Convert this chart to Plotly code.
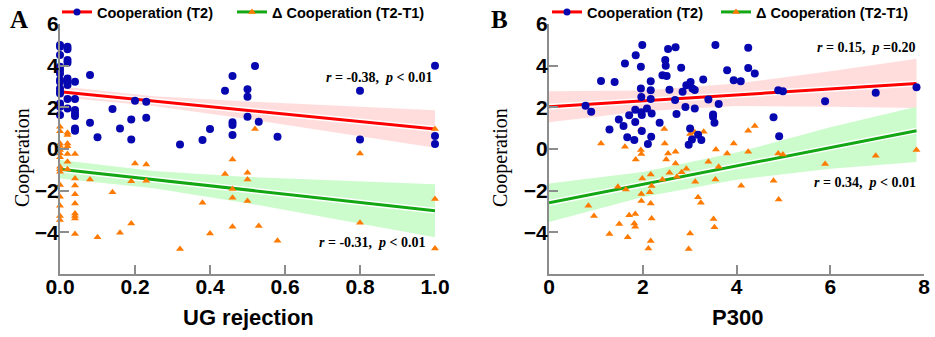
import plotly.graph_objects as go

# ---------------- Panel A: UG rejection ----------------
a_coop_x = [0]*14 + [0.02]*9 + [0.04]*7 + [0.08, 0.08, 0.10, 0.14, 0.16, 0.19, 0.19, 0.20, 0.23, 0.23,
            0.32, 0.38, 0.40, 0.44, 0.46, 0.46, 0.46, 0.46, 0.50, 0.50, 0.50, 0.52, 0.53, 0.58,
            0.80, 0.80, 1.0, 1.0, 1.0]
a_coop_y = [4.99, 4.91, 4.51, 3.95, 3.79, 3.63, 3.31, 3.23, 2.91, 2.75, 2.67, 2.19, 2.03, 1.63,
            4.91, 4.79, 4.27, 4.14, 3.39, 3.23, 3.07, 2.40, 1.95,
            3.23, 2.40, 1.87, 1.71, 1.58, 0.99, 0.88,
            3.55, 1.26, 0.56, 1.92, 0.99, 1.42, 0.46, 2.32, 2.27, 1.50,
            0.22, 0.43, 0.96, 2.80, 3.50, 1.28, 1.15, 0.67, 2.87, 2.51, 1.55, 3.98, 1.31, 0.59,
            2.80, 0.46, 4.00, 0.62, 0.24]

a_delta_x = [0]*15 + [0.02]*7 + [0.04]*9 + [0.08, 0.10, 0.14, 0.16, 0.19, 0.19, 0.20, 0.23, 0.23,
             0.32, 0.38, 0.40, 0.44, 0.46, 0.46, 0.46, 0.46, 0.50, 0.50, 0.50, 0.52, 0.53,
             0.58, 0.80, 0.80, 1.0, 1.0, 1.0]
a_delta_y = [1.07, 0.85, 0.27, 0.14, -0.05, -0.21, -0.40, -0.85, -0.97, -1.09, -1.73, -2.29, -2.72, -3.22, -3.41,
             0.78, 0.67, 0.26, 0.13, -0.24, -0.61, -0.97,
             -0.24, -1.41, -1.75, -2.17, -2.61, -3.09, -3.22, -3.33, -4.08,
             -1.46, -4.24, -2.08, -4.02, -3.57, -1.55, -0.69, -0.74, -1.52,
             -4.80, -2.58, -4.05, -1.20, -0.50, -1.92, -2.34, -3.73, -1.14, -1.46, -2.50, 0.96, -3.70,
             -4.40, -0.21, -3.54, 0.96, -2.40, -4.77]

a_fit_x = [0, 0.25, 0.5, 0.75, 1.0]
a_coop_fit = [2.75, 2.30, 1.86, 1.41, 0.96]
a_coop_lo = [2.49, 2.07, 1.44, 0.76, 0.06]
a_coop_hi = [3.01, 2.53, 2.28, 2.06, 1.86]
a_delta_fit = [-0.97, -1.47, -1.97, -2.46, -2.96]
a_delta_lo = [-1.41, -1.88, -2.60, -3.40, -4.23]
a_delta_hi = [-0.53, -1.06, -1.34, -1.52, -1.69]

# ---------------- Panel B: P300 ----------------
b_coop_x = [0.78, 0.90, 1.11, 1.29, 1.40, 1.49, 1.59, 1.62, 1.67, 1.71, 1.82, 1.84, 1.84, 1.85, 1.96, 1.96,
            1.97, 1.97, 1.98, 1.98, 1.99, 2.09, 2.11, 2.17, 2.17, 2.17, 2.18, 2.19, 2.36, 2.42, 2.48,
            2.49, 2.51, 2.54, 2.57, 2.70, 2.69, 2.72, 2.82, 2.85, 2.91, 2.93, 3.01, 3.02, 3.05, 2.98,
            3.06, 3.11, 3.11, 3.18, 3.25, 3.29, 3.40, 3.50, 3.50, 3.53, 3.55, 3.62, 3.80, 3.94, 4.09,
            4.25, 4.25, 4.39, 4.79, 4.89, 4.91, 4.99, 5.89, 6.97, 7.84]
b_coop_y = [2.08, 1.79, 3.26, 0.94, 3.22, 1.42, 1.10, 4.11, 0.56, 1.62, 0.43, 1.89, 1.30, 4.50, 3.95, 2.91,
            2.50, 1.76, 1.63, 0.86, 4.99, 1.94, 0.24, 3.25, 2.82, 2.40, 0.59, 1.71, 1.26, 3.54, 4.27,
            4.00, 3.50, 4.80, 2.85, 4.88, 2.35, 1.68, 3.90, 2.75, 2.02, 3.06, 0.98, 3.22, 0.46, 0.21,
            2.91, 2.83, 1.95, 0.69, 0.43, 3.34, 2.38, 1.66, 1.55, 1.26, 4.99, 2.16, 3.78, 3.30, 3.25,
            4.86, 3.89, 3.62, 1.52, 2.82, 0.61, 2.77, 2.29, 2.70, 2.96]

b_delta_x = [0.84, 0.96, 1.11, 1.29, 1.47, 1.50, 1.62, 1.64, 1.68, 1.71, 1.82, 1.84, 1.84, 1.85, 1.96,
             1.96, 1.97, 1.97, 1.97, 1.99, 2.12, 2.15, 2.17, 2.17, 2.17, 2.19, 2.19, 2.42, 2.46, 2.47,
             2.50, 2.54, 2.57, 2.70, 2.70, 2.73, 2.83, 2.93, 2.98, 3.01, 3.01, 3.11, 3.12, 3.18, 3.24,
             3.30, 3.40, 3.51, 3.53, 3.55, 3.56, 3.62, 3.80, 3.94, 4.10, 4.25, 4.25, 4.39, 4.79, 4.89,
             4.90, 4.99, 5.89, 6.97, 7.84]
b_delta_y = [-2.72, -3.22, 0.27, -4.08, -1.81, -3.60, 0.11, -1.94, -4.24, -3.18, -3.57, -3.73, -3.12, -0.50, 0.94,
             -0.05, -0.24, -2.16, -2.50, -1.41, -4.77, -2.08, -1.22, -2.61, -4.42, -1.78, -3.33, -1.46, 0.96, 0.27,
             -0.50, -0.21, -1.14, -0.13, -0.69, -1.33, -1.12, -0.95, -4.80, 0.72, -4.05, 0.80, -1.57, -2.32, -2.58,
             0.83, -0.61, -3.36, -3.76, -1.46, -0.02, -0.85, -0.21, 0.27, -1.76, 0.88, -0.13, 1.10, -1.52, -0.21,
             -2.42, -0.26, -0.72, -0.32, -0.05]

b_fit_x = [0, 2, 4, 6, 7.84]
b_coop_fit = [2.03, 2.31, 2.60, 2.88, 3.14]
b_coop_lo = [1.29, 1.81, 2.06, 2.03, 1.97]
b_coop_hi = [2.77, 2.81, 3.14, 3.73, 4.33]
b_delta_fit = [-2.58, -1.70, -0.82, 0.07, 0.88]
b_delta_lo = [-3.50, -2.30, -1.47, -0.95, -0.62]
b_delta_hi = [-1.66, -1.10, -0.17, 1.04, 2.03]

y_ticks = [-4, -2, 0, 2, 4, 6]
a_xticks = [0, 0.2, 0.4, 0.6, 0.8, 1.0]
a_xticklabels = ["0.0", "0.2", "0.4", "0.6", "0.8", "1.0"]
b_xticks = [0, 2, 4, 6, 8]

series_names = ["Cooperation (T2)", "\u0394 Cooperation (T2-T1)"]
stats_text = ["<b><i>r</i> = -0.38,  <i>p</i> &lt; 0.01</b>", "<b><i>r</i> = -0.31,  <i>p</i> &lt; 0.01</b>",
              "<b><i>r</i> = 0.15,  <i>p</i> =0.20</b>", "<b><i>r</i> = 0.34,  <i>p</i> &lt; 0.01</b>"]

BLUE = "#0707B0"
ORANGE = "#FF7A00"
RED = "#FF0000"
GREEN = "#13A813"
RED_BAND = "rgba(255,215,215,0.85)"
GREEN_BAND = "rgba(195,250,195,0.85)"
AXC = "#8C8C8C"

W, H = 935, 337
ML, MR, MT, MB = 60, 11, 24, 63
PW = W - ML - MR
PH = H - MT - MB


def px_x(p):
    return (p - ML) / PW


def px_y(p):
    return (H - MB - p) / PH


fig = go.Figure()


def add_panel(xa, ya, fx, cf, clo, chi, df, dlo, dhi, cx, cy, dx, dy):
    for lo, hi, col in [(clo, chi, RED_BAND), (dlo, dhi, GREEN_BAND)]:
        fig.add_trace(go.Scatter(x=fx + fx[::-1], y=hi + lo[::-1], fill="toself", fillcolor=col,
                                 line=dict(width=0), mode="lines", hoverinfo="skip", showlegend=False,
                                 xaxis=xa, yaxis=ya))
    for fit, col in [(cf, RED), (df, GREEN)]:
        fig.add_trace(go.Scatter(x=fx, y=fit, mode="lines", line=dict(color="white", width=6),
                                 showlegend=False, xaxis=xa, yaxis=ya, hoverinfo="skip"))
        fig.add_trace(go.Scatter(x=fx, y=fit, mode="lines", line=dict(color=col, width=3),
                                 showlegend=False, xaxis=xa, yaxis=ya))
    fig.add_trace(go.Scatter(x=dx, y=dy, mode="markers", cliponaxis=False,
                             marker=dict(symbol="triangle-up", color=ORANGE, size=7, line=dict(width=0)),
                             showlegend=False, xaxis=xa, yaxis=ya))
    fig.add_trace(go.Scatter(x=cx, y=cy, mode="markers", cliponaxis=False,
                             marker=dict(symbol="circle", color=BLUE, size=8, line=dict(width=0)),
                             showlegend=False, xaxis=xa, yaxis=ya))


add_panel("x", "y", a_fit_x, a_coop_fit, a_coop_lo, a_coop_hi, a_delta_fit, a_delta_lo, a_delta_hi,
          a_coop_x, a_coop_y, a_delta_x, a_delta_y)
add_panel("x2", "y2", b_fit_x, b_coop_fit, b_coop_lo, b_coop_hi, b_delta_fit, b_delta_lo, b_delta_hi,
          b_coop_x, b_coop_y, b_delta_x, b_delta_y)

# legend entries: one legend box per entry so each sits where the reference has it
for (lg1, lg2), xa, ya in [(("legend", "legend2"), "x", "y"), (("legend3", "legend4"), "x2", "y2")]:
    fig.add_trace(go.Scatter(x=[None], y=[None], mode="lines+markers", name=series_names[0],
                             line=dict(color=RED, width=3), marker=dict(color=BLUE, size=7),
                             legend=lg1, xaxis=xa, yaxis=ya))
    fig.add_trace(go.Scatter(x=[None], y=[None], mode="lines+markers", name=series_names[1],
                             line=dict(color=GREEN, width=3),
                             marker=dict(color=ORANGE, size=7, symbol="triangle-up"),
                             legend=lg2, xaxis=xa, yaxis=ya))

tickfont = dict(family="Liberation Sans, Arial", size=21, color="black", weight="bold")
axis_common = dict(showline=True, linecolor=AXC, linewidth=2, ticks="inside", ticklen=9,
                   tickwidth=2, tickcolor=AXC, showgrid=False, zeroline=False, tickfont=tickfont)
xaxis_common = dict(axis_common, ticklabelstandoff=-7)
yaxis_common = dict(axis_common, ticklabelstandoff=-5)

legfont = dict(family="Liberation Sans, Arial", size=14.5, color="black", weight="bold")


def leg(px):
    return dict(orientation="h", x=px_x(px), y=px_y(12), xanchor="left", yanchor="middle",
                font=legfont, bgcolor="rgba(0,0,0,0)")


fig.update_layout(
    width=W, height=H, margin=dict(l=ML, r=MR, t=MT, b=MB, autoexpand=False),
    plot_bgcolor="white", paper_bgcolor="white",
    xaxis=dict(domain=[0, 375 / PW], range=[0, 1], tickvals=a_xticks, ticktext=a_xticklabels,
               anchor="y", **xaxis_common),
    yaxis=dict(domain=[0, 1], range=[-6, 6], tickvals=y_ticks, anchor="x", **yaxis_common),
    xaxis2=dict(domain=[489 / PW, 1], range=[0, 8], tickvals=b_xticks, anchor="y2", **xaxis_common),
    yaxis2=dict(domain=[0, 1], range=[-6, 6], tickvals=y_ticks, anchor="x2", **yaxis_common),
    legend=leg(57), legend2=leg(232), legend3=leg(547), legend4=leg(716),
    showlegend=True,
)

serif = "Liberation Serif, Times New Roman"
ann = []
# panel letters
ann.append(dict(text="<b>A</b>", x=px_x(18.5), y=px_y(20), xref="paper", yref="paper",
                xanchor="center", yanchor="middle",
                showarrow=False, font=dict(family=serif, size=25, color="black")))
ann.append(dict(text="<b>B</b>", x=px_x(499), y=px_y(20), xref="paper", yref="paper",
                xanchor="center", yanchor="middle",
                showarrow=False, font=dict(family=serif, size=25, color="black")))
# y titles
for px in [22, 500]:
    ann.append(dict(text="Cooperation", x=px_x(px), y=px_y(158), xref="paper", yref="paper",
                    xanchor="center", yanchor="middle",
                    textangle=-90, showarrow=False, font=dict(family=serif, size=20, color="black")))
# x titles
ann.append(dict(text="<b>UG rejection</b>", x=px_x(248), y=px_y(317), xref="paper", yref="paper",
                xanchor="center", yanchor="middle",
                showarrow=False, font=dict(family="Liberation Sans, Arial", size=22, color="black")))
ann.append(dict(text="<b>P300</b>", x=px_x(737), y=px_y(317), xref="paper", yref="paper",
                xanchor="center", yanchor="middle",
                showarrow=False, font=dict(family="Liberation Sans, Arial", size=22, color="black")))
# stats
stat_pos = [("x", "y", 1.0, 3.41), ("x", "y", 0.981, -4.51), ("x2", "y2", 7.85, 4.85), ("x2", "y2", 7.87, -1.63)]
for t, (xr, yr, xv, yv) in zip(stats_text, stat_pos):
    ann.append(dict(text=t, x=xv, y=yv, xref=xr, yref=yr, xanchor="right", yanchor="middle",
                    showarrow=False, font=dict(family=serif, size=14, color="black")))
fig.update_layout(annotations=ann)

fig.write_html("out.html", post_script="document.body.style.margin='0px';",
               config={"displayModeBar": False})
